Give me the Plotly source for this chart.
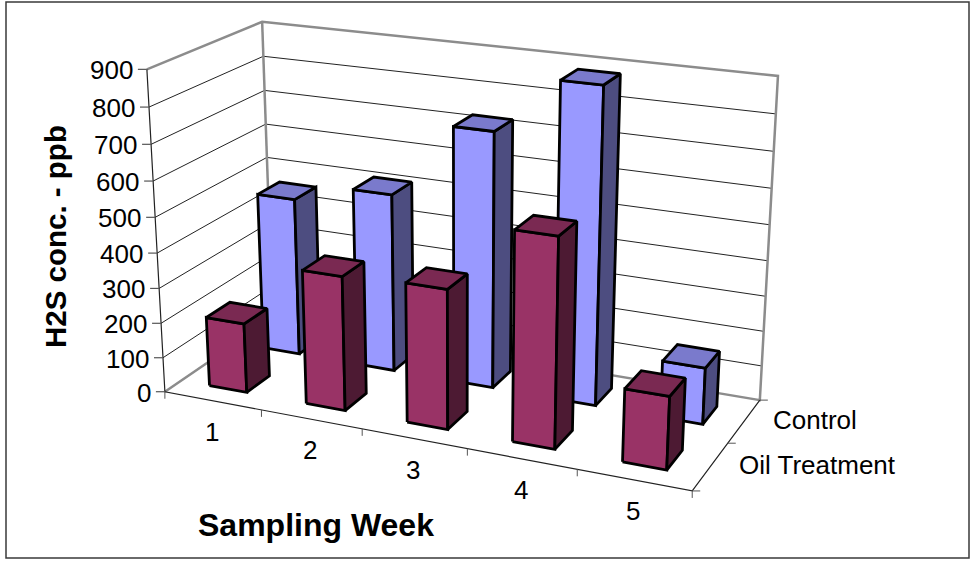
import numpy as np
import plotly.graph_objects as go

weeks = ["1", "2", "3", "4", "5"]
series_names = ["Oil Treatment", "Control"]
control = [462, 515, 728, 885, 160]
oil = [200, 380, 390, 575, 200]
value_ticks = [0, 100, 200, 300, 400, 500, 600, 700, 800, 900]
value_max = 900
bar_width = 0.39
bar_depth = 0.42

C_FRONT, C_SIDE, C_TOP = "#9999FF", "#4D4D80", "#7A7ACC"
O_FRONT, O_SIDE, O_TOP = "#993366", "#4D1A33", "#7A2952"
WALL = "#8C8C8C"
DARK = "#222222"
FONT = "Liberation Sans, Arial, sans-serif"

# Camera calibration: unit box corners -> page pixels
box = np.array([[0,0,0],[1,0,0],[1,1,0],[0,1,0],[0,0,1],[0,1,1],[1,1,1]], float)
pix = np.array([[165,392],[692,491],[760,400],[272.5,318],[147,69],[262,22],[778,76]], float)
rows, rhs = [], []
for (X, Y, Z), (u, v) in zip(box, pix):
    rows.append([X, Y, Z, 1, 0, 0, 0, 0, -u*X, -u*Y, -u*Z]); rhs.append(u)
    rows.append([0, 0, 0, 0, X, Y, Z, 1, -v*X, -v*Y, -v*Z]); rhs.append(v)
P = np.append(np.linalg.lstsq(np.array(rows), np.array(rhs), rcond=None)[0], 1).reshape(3, 4)

def proj(x, y, z):
    q = P @ np.array([x, y, z, 1.0])
    return q[0]/q[2], q[1]/q[2]

fig = go.Figure()

def line(pts, color, width):
    xy = [proj(*p) for p in pts]
    fig.add_trace(go.Scatter(x=[a for a, _ in xy], y=[b for _, b in xy], mode="lines",
                             line=dict(color=color, width=width), hoverinfo="skip", showlegend=False))

def offset_line(base, dx, dy, color, width):
    x0, y0 = proj(*base)
    fig.add_trace(go.Scatter(x=[x0, x0+dx], y=[y0, y0+dy], mode="lines",
                             line=dict(color=color, width=width), hoverinfo="skip", showlegend=False))

def face(pts, color):
    xy = [proj(*p) for p in pts + [pts[0]]]
    fig.add_trace(go.Scatter(x=[a - 1 for a, _ in xy], y=[b for _, b in xy], mode="lines", fill="toself",
                             fillcolor=color, line=dict(color="#000000", width=2.8),
                             hoverinfo="skip", showlegend=False))

def bar(i, j, value, front, side, top):
    n, m = len(weeks), len(series_names)
    x0, x1 = (i + (1-bar_width)/2)/n, (i + (1+bar_width)/2)/n
    y0, y1 = (j + (1-bar_depth)/2)/m, (j + (1+bar_depth)/2)/m
    z = value/value_max
    face([(x0,y0,0),(x1,y0,0),(x1,y0,z),(x0,y0,z)], front)
    face([(x1,y0,0),(x1,y1,0),(x1,y1,z),(x1,y0,z)], side)
    face([(x0,y0,z),(x1,y0,z),(x1,y1,z),(x0,y1,z)], top)

# walls' gridlines
for t in value_ticks[1:-1]:
    z = t/value_max
    line([(0,0,z),(0,1,z),(1,1,z)], "#222222", 1)
# wall frames
line([(0,0,1),(0,1,1),(1,1,1),(1,1,0),(0,1,0),(0,0,0)], WALL, 2.5)
line([(0,1,1),(0,1,0)], WALL, 2.5)
# axes
line([(0,0,1),(0,0,0),(1,0,0),(1,1,0)], DARK, 1.2)
for t in value_ticks:
    offset_line((0,0,t/value_max), -9, 0, "#555555", 1.2)
for k in range(len(weeks)+1):
    offset_line((k/len(weeks),0,0), 0, 7, "#555555", 1)
for k in range(len(series_names)+1):
    offset_line((1,k/len(series_names),0), 8, 0, "#555555", 1)

for i, v in enumerate(control):
    bar(i, 1, v, C_FRONT, C_SIDE, C_TOP)
for i, v in enumerate(oil):
    bar(i, 0, v, O_FRONT, O_SIDE, O_TOP)

ann = []
def label(x, y, text, anchor="center", size=26, bold=False, angle=0):
    ann.append(dict(x=x, y=y, xref="x", yref="y", text=f"<b>{text}</b>" if bold else text, showarrow=False,
                    xanchor=anchor, yanchor="middle", textangle=angle,
                    font=dict(family=FONT, size=size, color="#000000")))

for t in value_ticks:
    u, v = proj(0, 0, t/value_max)
    label(u-12, v+1, str(t), "right")
for k, w in enumerate(weeks):
    u, v = proj((k+0.5)/len(weeks), 0, 0)
    label(u-1, v+31, w)
for k, s in enumerate(series_names):
    u, v = proj(1, (k+0.5)/len(series_names), 0)
    label(u+27, v-1, s, "left")
label(315.5, 525, "Sampling Week", bold=True, size=32)
label(55, 237, "H2S conc. - ppb", bold=True, size=29.5, angle=-90)
fig.update_layout(
    width=971, height=562, margin=dict(l=0, r=0, t=0, b=0),
    paper_bgcolor="white", plot_bgcolor="white", showlegend=False, annotations=ann,
    xaxis=dict(range=[0, 971], visible=False, fixedrange=True),
    yaxis=dict(range=[562, 0], visible=False, fixedrange=True),
    shapes=[dict(type="rect", xref="x", yref="y", x0=6, y0=2, x1=969, y1=558,
                 line=dict(color="#3A3A3A", width=1.5), layer="below")],
)
fig.write_html("out.html", config=dict(displayModeBar=False),
               post_script="document.body.style.margin='0';document.body.style.overflow='hidden';")
